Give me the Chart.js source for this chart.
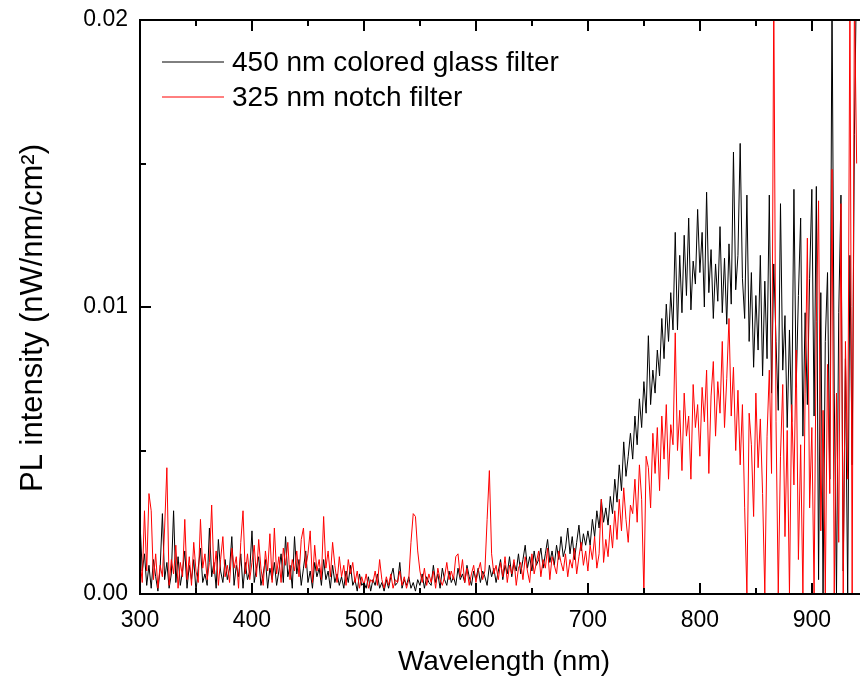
<!DOCTYPE html>
<html>
<head>
<meta charset="utf-8">
<script src="https://cdn.jsdelivr.net/npm/chart.js@4.4.1/dist/chart.umd.min.js"></script>
<style>
html,body{margin:0;padding:0;background:#fff;}
#wrap{width:860px;height:679px;}
</style>
</head>
<body>
<div id="wrap"><canvas id="c" width="860" height="679"></canvas></div>
<script>
// Wavelength (nm)
const wavelengths = [
300,302,304,306,308,310,312,314,316,318,
320,322,324,326,328,330,332,334,336,338,
340,342,344,346,348,350,352,354,356,358,
360,362,364,366,368,370,372,374,376,378,
380,382,384,386,388,390,392,394,396,398,
400,402,404,406,408,410,412,414,416,418,
420,422,424,426,428,430,432,434,436,438,
440,442,444,446,448,450,452,454,456,458,
460,462,464,466,468,470,472,474,476,478,
480,482,484,486,488,490,492,494,496,498,
500,502,504,506,508,510,512,514,516,518,
520,522,524,526,528,530,532,534,536,538,
540,542,544,546,548,550,552,554,556,558,
560,562,564,566,568,570,572,574,576,578,
580,582,584,586,588,590,592,594,596,598,
600,602,604,606,608,610,612,614,616,618,
620,622,624,626,628,630,632,634,636,638,
640,642,644,646,648,650,652,654,656,658,
660,662,664,666,668,670,672,674,676,678,
680,682,684,686,688,690,692,694,696,698,
700,702,704,706,708,710,712,714,716,718,
720,722,724,726,728,730,732,734,736,738,
740,742,744,746,748,750,752,754,756,758,
760,762,764,766,768,770,772,774,776,778,
780,782,784,786,788,790,792,794,796,798,
800,802,804,806,808,810,812,814,816,818,
820,822,824,826,828,830,832,834,836,838,
840,842,844,846,848,850,852,854,856,858,
860,862,864,866,868,870,872,874,876,878,
880,882,884,886,888,890,892,894,896,898,
900,902,904,906,908,910,912,914,916,918,
920,922,924,926,928,930,932,934,936,938,
940
];

// PL intensity (nW/nm/cm^2), 450 nm colored glass filter
const glassFilter = [
0.0025,0.0008,0.0014,0.0003,0.0010,0.0002,0.0012,0.0006,0.0001,0.0009,
0.0028,0.0005,0.0011,0.0002,0.0007,0.0029,0.0004,0.0013,0.0003,0.0008,
0.0015,0.0002,0.0010,0.0005,0.0012,0.0001,0.0009,0.0016,0.0004,0.0007,
0.0003,0.0023,0.0006,0.0011,0.0002,0.0019,0.0008,0.0004,0.0012,0.0005,
0.0009,0.0020,0.0003,0.0010,0.0006,0.0014,0.0002,0.0011,0.0005,0.0008,
0.0022,0.0004,0.0009,0.0013,0.0003,0.0007,0.0012,0.0002,0.0009,0.0005,
0.0011,0.0003,0.0008,0.0014,0.0004,0.0020,0.0006,0.0010,0.0002,0.0020,
0.0007,0.0012,0.0003,0.0009,0.0015,0.0004,0.0008,0.0002,0.0011,0.0006,
0.0009,0.0003,0.0012,0.0005,0.0008,0.0002,0.0010,0.0004,0.0007,0.0003,
0.0006,0.0002,0.0008,0.0004,0.0010,0.0003,0.0005,0.0001,0.0007,0.0003,
0.0004,0.0002,0.0006,0.0001,0.0005,0.0003,0.0007,0.0002,0.0004,0.0001,
0.0005,0.0002,0.0006,0.0009,0.0003,0.0004,0.0011,0.0002,0.0005,0.0003,
0.0006,0.0002,0.0004,0.0001,0.0005,0.0003,0.0007,0.0002,0.0006,0.0004,
0.0003,0.0010,0.0004,0.0007,0.0002,0.0009,0.0005,0.0003,0.0008,0.0004,
0.0006,0.0003,0.0009,0.0005,0.0007,0.0004,0.0010,0.0006,0.0003,0.0008,
0.0005,0.0009,0.0004,0.0008,0.0006,0.0003,0.0010,0.0006,0.0009,0.0004,
0.0008,0.0012,0.0005,0.0010,0.0007,0.0013,0.0006,0.0011,0.0008,0.0014,
0.0007,0.0012,0.0017,0.0009,0.0013,0.0008,0.0015,0.0010,0.0012,0.0016,
0.0009,0.0014,0.0019,0.0011,0.0015,0.0010,0.0017,0.0012,0.0020,0.0013,
0.0016,0.0023,0.0014,0.0020,0.0012,0.0018,0.0024,0.0015,0.0021,0.0017,
0.0022,0.0017,0.0026,0.0020,0.0029,0.0023,0.0033,0.0025,0.0030,0.0024,
0.0034,0.0028,0.0040,0.0032,0.0045,0.0036,0.0053,0.0041,0.0048,0.0056,
0.0047,0.0062,0.0052,0.0068,0.0058,0.0074,0.0063,0.0090,0.0066,0.0078,
0.0070,0.0085,0.0076,0.0096,0.0082,0.0101,0.0088,0.0105,0.0092,0.0126,
0.0092,0.0118,0.0098,0.0125,0.0104,0.0131,0.0099,0.0116,0.0108,0.0134,
0.0112,0.0126,0.0100,0.0140,0.0105,0.0120,0.0096,0.0115,0.0102,0.0128,
0.0098,0.0117,0.0094,0.0122,0.0101,0.0154,0.0106,0.0118,0.0157,0.0110,
0.0096,0.0139,0.0088,0.0112,0.0079,0.0104,0.0085,0.0118,0.0076,0.0109,
0.0082,0.0139,0.0070,0.0115,0.0088,0.0064,0.0136,0.0078,0.0097,0.0058,
0.0092,0.0060,0.0141,0.0072,0.0104,0.0131,0.0055,0.0098,0.0066,0.0110,
0.0141,0.0062,0.0142,0.0005,0.0105,0.0000,0.0088,0.0112,0.0040,0.0210,
0.0070,0.0000,0.0098,0.0139,0.0008,0.0082,0.0000,0.0118,0.0045,0.0160,
0.0220
];

// PL intensity (nW/nm/cm^2), 325 nm notch filter
const notchFilter = [
0.0012,0.0004,0.0029,0.0008,0.0035,0.0029,0.0005,0.0014,0.0002,0.0010,
0.0006,0.0023,0.0044,0.0003,0.0012,0.0007,0.0017,0.0002,0.0011,0.0006,
0.0026,0.0005,0.0013,0.0003,0.0018,0.0008,0.0004,0.0026,0.0009,0.0014,
0.0005,0.0011,0.0031,0.0007,0.0015,0.0003,0.0012,0.0020,0.0006,0.0010,
0.0004,0.0016,0.0009,0.0013,0.0002,0.0018,0.0029,0.0007,0.0014,0.0005,
0.0011,0.0017,0.0006,0.0019,0.0009,0.0003,0.0015,0.0008,0.0021,0.0004,
0.0023,0.0007,0.0013,0.0004,0.0016,0.0010,0.0018,0.0005,0.0012,0.0008,
0.0015,0.0006,0.0019,0.0023,0.0009,0.0014,0.0022,0.0004,0.0017,0.0008,
0.0012,0.0005,0.0027,0.0009,0.0015,0.0006,0.0018,0.0010,0.0004,0.0013,
0.0006,0.0010,0.0003,0.0012,0.0007,0.0011,0.0004,0.0008,0.0002,0.0006,
0.0003,0.0007,0.0002,0.0005,0.0004,0.0008,0.0003,0.0012,0.0005,0.0002,
0.0006,0.0003,0.0007,0.0002,0.0005,0.0004,0.0008,0.0003,0.0006,0.0002,
0.0005,0.0018,0.0028,0.0027,0.0015,0.0008,0.0004,0.0009,0.0003,0.0007,
0.0004,0.0008,0.0002,0.0009,0.0005,0.0003,0.0006,0.0011,0.0005,0.0008,
0.0005,0.0013,0.0014,0.0006,0.0012,0.0004,0.0009,0.0003,0.0007,0.0010,
0.0004,0.0008,0.0011,0.0005,0.0008,0.0026,0.0043,0.0014,0.0007,0.0010,
0.0005,0.0011,0.0006,0.0013,0.0004,0.0010,0.0007,0.0012,0.0003,0.0009,
0.0011,0.0005,0.0013,0.0008,0.0004,0.0014,0.0007,0.0011,0.0015,0.0006,
0.0012,0.0009,0.0016,0.0005,0.0013,0.0010,0.0007,0.0015,0.0011,0.0008,
0.0014,0.0006,0.0012,0.0009,0.0016,0.0007,0.0013,0.0018,0.0010,0.0015,
0.0008,0.0017,0.0012,0.0020,0.0009,0.0014,0.0033,0.0011,0.0019,0.0013,
0.0024,0.0016,0.0029,0.0019,0.0033,0.0022,0.0037,0.0026,0.0018,0.0031,
0.0028,0.0040,0.0025,0.0045,0.0033,0.0000,0.0048,0.0044,0.0030,0.0056,
0.0042,0.0058,0.0036,0.0062,0.0047,0.0066,0.0040,0.0059,0.0052,0.0091,
0.0050,0.0064,0.0043,0.0070,0.0055,0.0062,0.0040,0.0073,0.0058,0.0066,
0.0048,0.0072,0.0060,0.0078,0.0042,0.0069,0.0081,0.0055,0.0074,0.0063,
0.0088,0.0058,0.0075,0.0096,0.0062,0.0079,0.0050,0.0071,0.0045,0.0066,
0.0030,0.0000,0.0063,0.0052,0.0027,0.0070,0.0044,0.0061,0.0035,0.0000,
0.0055,0.0078,0.0042,0.0210,0.0060,0.0000,0.0048,0.0073,0.0020,0.0057,
0.0000,0.0066,0.0038,0.0085,0.0012,0.0052,0.0000,0.0070,0.0124,0.0030,
0.0058,0.0000,0.0095,0.0137,0.0022,0.0064,0.0000,0.0080,0.0035,0.0148,
0.0000,0.0070,0.0018,0.0136,0.0000,0.0088,0.0040,0.0210,0.0000,0.0210,
0.0150
];

// Tick labels
const xTickLabels = [300, 400, 500, 600, 700, 800, 900];
const xMinorTicks = [350, 450, 550, 650, 750, 850];
const yTickLabels = [0, 0.01, 0.02];
const yMinorTicks = [0.005, 0.015];

const seriesNames = ['450 nm colored glass filter', '325 nm notch filter'];
const yAxisTitle = 'PL intensity (nW/nm/cm²)';
const xAxisTitle = 'Wavelength (nm)';
const FONT = "'Liberation Sans', Arial, Helvetica, sans-serif";

const framePlugin = {
  id: 'frame',
  afterDatasetsDraw(chart) {
    const {ctx, chartArea: a, scales: {x, y}} = chart;
    ctx.save();
    ctx.strokeStyle = '#000';
    ctx.lineWidth = 2;
    ctx.lineCap = 'butt';
    ctx.beginPath();
    ctx.moveTo(a.left, a.bottom); ctx.lineTo(a.left, a.top - 1);
    ctx.moveTo(a.left - 1, a.top); ctx.lineTo(a.right, a.top);
    ctx.moveTo(a.left - 1, a.bottom); ctx.lineTo(a.right, a.bottom);
    ctx.stroke();
    ctx.beginPath();
    const tick = (v, len) => {
      const px = Math.round(x.getPixelForValue(v));
      ctx.moveTo(px, a.bottom); ctx.lineTo(px, a.bottom - len);
      ctx.moveTo(px, a.top); ctx.lineTo(px, a.top + len);
    };
    xTickLabels.forEach(v => tick(v, 11));
    xMinorTicks.forEach(v => tick(v, 6));
    const ytick = (v, len) => {
      const py = Math.round(y.getPixelForValue(v));
      ctx.moveTo(a.left, py); ctx.lineTo(a.left + len, py);
    };
    yTickLabels.forEach(v => ytick(v, 11));
    yMinorTicks.forEach(v => ytick(v, 6));
    ctx.stroke();
    ctx.restore();
  },
  afterDraw(chart) {
    const {ctx, chartArea: a} = chart;
    ctx.save();
    // legend
    ctx.font = '28px ' + FONT;
    ctx.textBaseline = 'middle';
    ctx.fillStyle = '#000';
    const rows = [62, 97];
    chart.data.datasets.forEach((ds, i) => {
      const yy = rows[i];
      ctx.strokeStyle = ds.borderColor;
      ctx.lineWidth = 1;
      ctx.beginPath();
      ctx.moveTo(162, yy); ctx.lineTo(224, yy);
      ctx.stroke();
      ctx.fillText(ds.label, 232, yy + 1);
    });
    // x axis title
    ctx.textAlign = 'center';
    ctx.fillText(xAxisTitle, 504, 662);
    // y axis title
    ctx.font = '31px ' + FONT;
    ctx.textBaseline = 'alphabetic';
    ctx.translate(42, 318);
    ctx.rotate(-Math.PI / 2);
    ctx.fillText(yAxisTitle, 0, 0);
    ctx.restore();
  }
};

const toPoints = arr => wavelengths.map((w, i) => ({x: w, y: arr[i]}));

new Chart(document.getElementById('c'), {
  type: 'line',
  data: {
    datasets: [
      {label: seriesNames[0], data: toPoints(glassFilter), borderColor: '#000000', borderWidth: 1, pointRadius: 0, tension: 0, fill: false, order: 2},
      {label: seriesNames[1], data: toPoints(notchFilter), borderColor: '#ff0000', borderWidth: 1, pointRadius: 0, tension: 0, fill: false, order: 1}
    ]
  },
  options: {
    responsive: false,
    animation: false,
    devicePixelRatio: 1,
    layout: {padding: {top: 20, right: 0, left: 0, bottom: 0}},
    plugins: {legend: {display: false}, tooltip: {enabled: false}},
    scales: {
      x: {
        type: 'linear', min: 300, max: 943,
        afterBuildTicks: s => { s.ticks = xTickLabels.map(v => ({value: v})); },
        afterFit: s => { s.height = 85; s.paddingLeft = 0; s.paddingRight = 0; },
        grid: {display: false, drawTicks: false},
        border: {display: false},
        ticks: {color: '#000', font: {family: FONT, size: 23}, padding: 13, maxRotation: 0, autoSkip: false},
        title: {display: false}
      },
      y: {
        type: 'linear', min: 0, max: 0.02,
        afterBuildTicks: s => { s.ticks = yTickLabels.map(v => ({value: v})); },
        afterFit: s => { s.width = 140; s.paddingTop = 0; s.paddingBottom = 0; },
        grid: {display: false, drawTicks: false},
        border: {display: false},
        ticks: {color: '#000', font: {family: FONT, size: 23}, padding: 12, callback: v => Number(v).toFixed(2)},
        title: {display: false}
      }
    }
  },
  plugins: [framePlugin]
});
</script>
</body>
</html>
